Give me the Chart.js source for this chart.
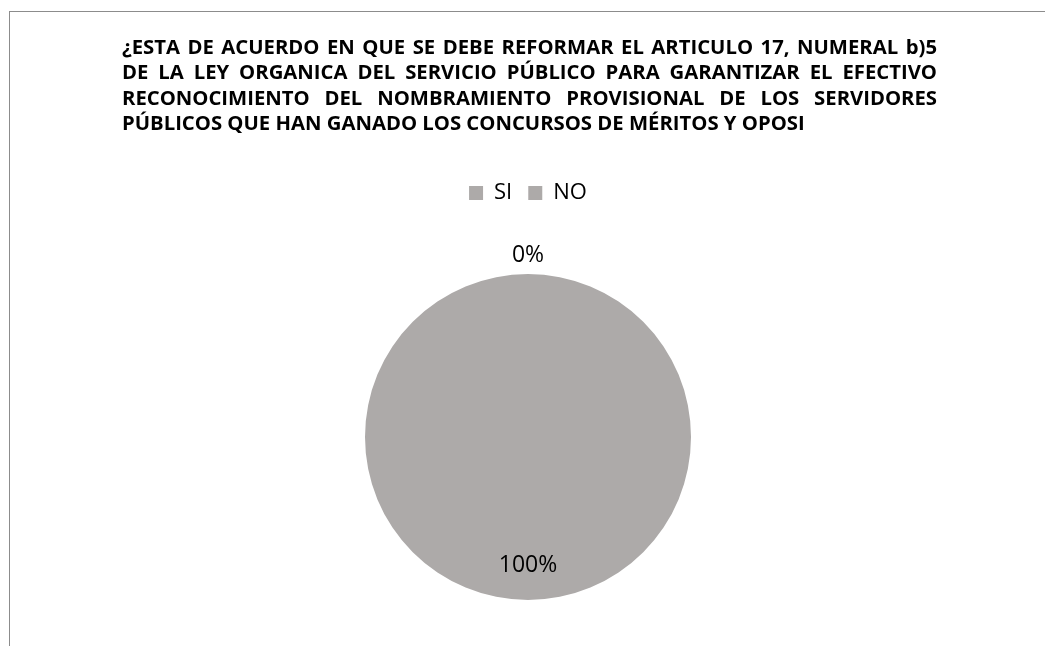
<!DOCTYPE html>
<html lang="es">
<head>
<meta charset="utf-8">
<title>Reforma del artículo 17</title>
<script src="https://cdn.jsdelivr.net/npm/chart.js@4.4.1/dist/chart.umd.min.js"></script>
<style>
  html, body { margin: 0; padding: 0; background: #fff; overflow: hidden; }
  canvas { display: block; }
</style>
</head>
<body>
<canvas id="chart" width="1045" height="646"></canvas>
<script>
const categories = ['SI', 'NO'];
const values = [0, 100];
const sliceColors = ['#ADAAA9', '#ADAAA9'];
const titleLines = [
    '¿ESTA DE ACUERDO EN QUE SE DEBE REFORMAR EL ARTICULO 17, NUMERAL b)5',
    'DE LA LEY ORGANICA DEL SERVICIO PÚBLICO PARA GARANTIZAR EL EFECTIVO',
    'RECONOCIMIENTO DEL NOMBRAMIENTO PROVISIONAL DE LOS SERVIDORES',
    'PÚBLICOS QUE HAN GANADO LOS CONCURSOS DE MÉRITOS Y OPOSI'
];

const FONT = '"Open Sans", "DejaVu Sans", sans-serif';

// white background + the thin frame that runs off the right/bottom edges
const framePlugin = {
    id: 'frame',
    beforeDraw(chart) {
        const ctx = chart.ctx;
        ctx.save();
        ctx.fillStyle = '#fff';
        ctx.fillRect(0, 0, chart.width, chart.height);
        ctx.strokeStyle = '#8c8c8c';
        ctx.lineWidth = 1;
        ctx.strokeRect(9.5, 11.5, chart.width + 20, chart.height + 20);
        ctx.restore();
    }
};

// justified title, last line left aligned
const titlePlugin = {
    id: 'justTitle',
    afterDraw(chart) {
        const ctx = chart.ctx;
        const left = 122, right = 937;
        ctx.save();
        ctx.font = 'bold 20.3px ' + FONT;
        ctx.fillStyle = '#000';
        ctx.textAlign = 'left';
        ctx.textBaseline = 'alphabetic';
        titleLines.forEach((line, i) => {
            const y = 54 + i * 25.4;
            if (i === titleLines.length - 1) {
                ctx.fillText(line, left, y);
                return;
            }
            const words = line.split(' ');
            const widths = words.map(w => ctx.measureText(w).width);
            const gap = (right - left - widths.reduce((a, b) => a + b, 0)) / (words.length - 1);
            if ('wordSpacing' in ctx) {
                const space = ctx.measureText(' ').width;
                ctx.wordSpacing = (gap - space) + 'px';
                ctx.fillText(line, left, y);
                ctx.wordSpacing = '0px';
            } else {
                let x = left;
                words.forEach((w, j) => {
                    ctx.fillText(w, x, y);
                    x += widths[j] + gap;
                });
            }
        });
        ctx.restore();
    }
};

// percentage labels: empty slice outside, the rest inside
const pctPlugin = {
    id: 'pctLabels',
    afterDatasetsDraw(chart) {
        const ctx = chart.ctx;
        const meta = chart.getDatasetMeta(0);
        const data = chart.data.datasets[0].data;
        const total = data.reduce((a, b) => a + b, 0);
        ctx.save();
        ctx.font = '23px ' + FONT;
        ctx.fillStyle = '#000';
        ctx.textAlign = 'center';
        ctx.textBaseline = 'middle';
        meta.data.forEach((arc, i) => {
            const p = arc.getProps(['x', 'y', 'startAngle', 'endAngle', 'outerRadius'], true);
            const mid = (p.startAngle + p.endAngle) / 2;
            const r = data[i] > 0 ? p.outerRadius * 0.79 : p.outerRadius + 19;
            const pct = Math.round(data[i] / total * 100) + '%';
            ctx.fillText(pct, p.x + Math.cos(mid) * r, p.y + Math.sin(mid) * r);
        });
        ctx.restore();
    }
};

new Chart(document.getElementById('chart'), {
    type: 'pie',
    data: {
        labels: categories,
        datasets: [{
            data: values,
            backgroundColor: sliceColors,
            borderWidth: 0,
            radius: 163
        }]
    },
    options: {
        responsive: false,
        animation: false,
        layout: {
            padding: { top: 166, left: 200, right: 189, bottom: 0 }
        },
        plugins: {
            legend: {
                position: 'top',
                labels: {
                    font: { family: FONT, size: 22 },
                    color: '#000',
                    boxWidth: 14,
                    boxHeight: 14,
                    padding: 16
                }
            },
            // empty box under the legend, just for the gap above the pie
            subtitle: {
                display: true,
                text: '',
                weight: 500,
                font: { size: 10 },
                padding: 1
            },
            tooltip: { enabled: false },
            title: { display: false }
        }
    },
    plugins: [framePlugin, pctPlugin, titlePlugin]
});
</script>
</body>
</html>
